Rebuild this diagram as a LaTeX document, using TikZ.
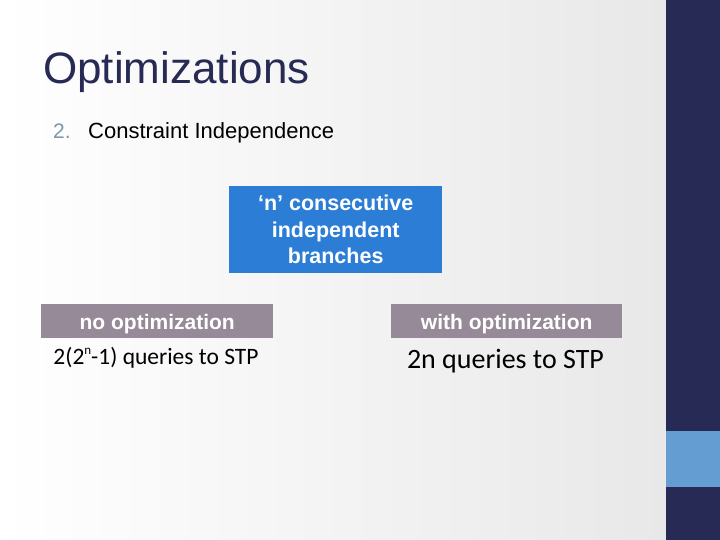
\documentclass[tikz,border=0pt]{standalone}
\usepackage{fontspec}
\setmainfont{Liberation Sans}
\newfontfamily\calib{Carlito}
\definecolor{navy}{HTML}{262A54}
\definecolor{barblue}{HTML}{639DD1}
\definecolor{boxblue}{HTML}{2B7DD6}
\definecolor{boxgray}{HTML}{978A98}
\definecolor{numgray}{HTML}{7E97A8}
\tikzset{
  graybox/.style={fill=boxgray, text=white, font=\fontsize{21}{24}\selectfont\bfseries, minimum width=232pt, minimum height=34pt, inner sep=0pt, text height=17pt, text depth=1pt, anchor=north west},
}
\begin{document}
\begin{tikzpicture}[x=1pt,y=-1pt]
\useasboundingbox (0,0) rectangle (720,540);
\shade[left color=white, middle color=black!2, right color=black!9] (0,0) rectangle (666,540);
\fill[navy] (666,0) rectangle (720,540);
\fill[barblue] (666,431) rectangle (720,487);
\node[anchor=base west, inner sep=0pt, text=navy, font=\fontsize{44}{50}\selectfont] (title) at (43,84) {Optimizations};
\node[anchor=base west, inner sep=0pt, text=numgray, font=\fontsize{21}{24}\selectfont] (num) at (53,139) {2.};
\node[anchor=base west, inner sep=0pt, font=\fontsize{22}{24}\selectfont] (sub) at (88,139) {Constraint Independence};
\node[fill=boxblue, text=white, font=\fontsize{21.5}{26.5}\selectfont\bfseries, align=center, minimum width=213pt, minimum height=87pt, inner sep=0pt, anchor=north west] (top) at (229,186) {‘n’ consecutive\\independent\\branches};
\node[graybox] (noopt) at (41,304) {no optimization};
\node[graybox, minimum width=231pt] (withopt) at (391,304) {with optimization};
\node[anchor=base, inner sep=0pt, font=\calib\fontsize{23.5}{28}\selectfont] (q1) at (156,364) {2(2\raisebox{0.85ex}{\fontsize{13}{13}\selectfont n}-1) queries to STP};
\node[anchor=base, inner sep=0pt, font=\calib\fontsize{28}{32}\selectfont] (q2) at (505.5,368) {2n queries to STP};
\end{tikzpicture}
\end{document}
